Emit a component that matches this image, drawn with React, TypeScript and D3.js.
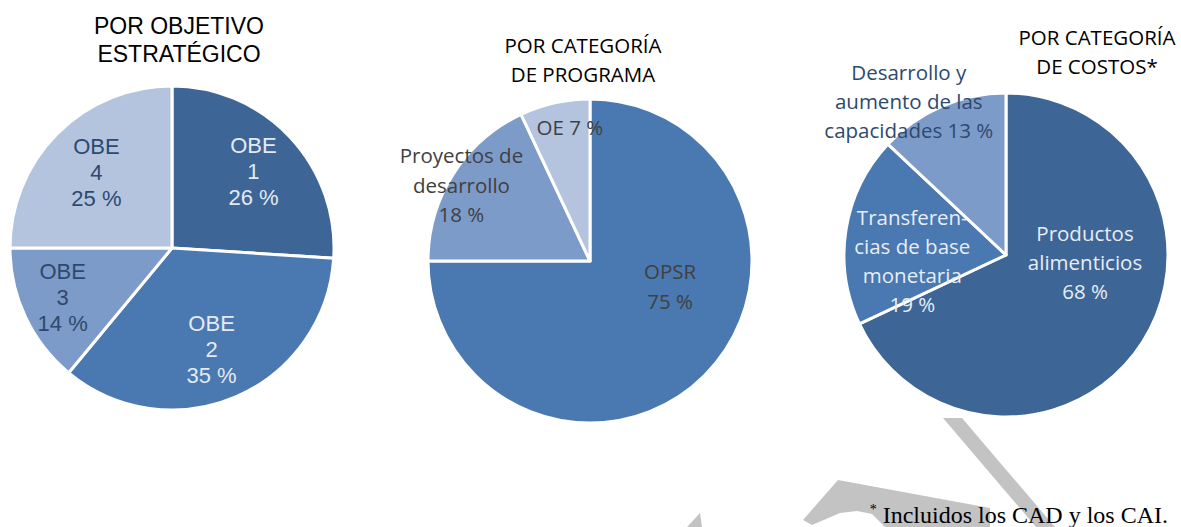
import React from "react";
import * as d3 from "d3";

const W = 1181;
const H = 527;

// Pie 1: Por objetivo estratégico
const obeLabels = ["OBE\n1\n26 %", "OBE\n2\n35 %", "OBE\n3\n14 %", "OBE\n4\n25 %"];
const obeValues = [26, 35, 14, 25];
const obeColors = ["#3d6595", "#4a78b0", "#7d9bc8", "#b4c4de"];
const obeText = ["#e4eaf3", "#e4eaf3", "#2c4a6f", "#2c4a6f"];
const obeLabelR = [0.69, 0.67, 0.74, 0.66];
const obeLabelDA = [0, 2, 1, 0];

// Pie 2: Por categoría de programa
const progLabels = ["OPSR\n75 %", "Proyectos de\ndesarrollo\n18 %", "OE 7 %"];
const progValues = [75, 18, 7];
const progColors = ["#4a78b0", "#7d9bc8", "#b4c4de"];
const progText = ["#404040", "#404040", "#404040"];
const progLabelR = [0.52, 0.92, 0.83];
const progLabelDA = [-27, -2, 4];

// Pie 3: Por categoría de costos
const costLabels = [
  "Productos\nalimenticios\n68 %",
  "Transferen-\ncias de base\nmonetaria\n19 %",
  "Desarrollo y\naumento de las\ncapacidades 13 %",
];
const costValues = [68, 19, 13];
const costColors = ["#3d6595", "#4a78b0", "#7d9bc8"];
const costText = ["#e8edf5", "#e8edf5", "#2c4a6f"];
const costLabelR = [0.49, 0.58, 1.12];
const costLabelDA = [-27, -13, -9];

type PieProps = {
  cx: number;
  cy: number;
  r: number;
  values: number[];
  labels: string[];
  colors: string[];
  textColors: string[];
  labelR: number[];
  labelDA: number[];
  font: string;
  fontSize: number;
  lineH: number;
};

function Pie(p: PieProps) {
  const pie = d3.pie<number>().sort(null).value((d) => d)(p.values);
  const arc = d3.arc<d3.PieArcDatum<number>>().innerRadius(0).outerRadius(p.r);
  return (
    <g transform={`translate(${p.cx},${p.cy})`}>
      {pie.map((s, i) => (
        <path key={"s" + i} d={arc(s) || ""} fill={p.colors[i]} stroke="#ffffff" strokeWidth={3} strokeLinejoin="round" />
      ))}
      {pie.map((s, i) => {
        const mid = (s.startAngle + s.endAngle) / 2 + (p.labelDA[i] * Math.PI) / 180;
        const rr = p.labelR[i] * p.r;
        const x = Math.sin(mid) * rr;
        const y = -Math.cos(mid) * rr;
        const lines = p.labels[i].split("\n");
        const y0 = y - ((lines.length - 1) * p.lineH) / 2;
        return (
          <text
            key={"t" + i}
            x={x}
            textAnchor="middle"
            fontFamily={p.font}
            fontSize={p.fontSize}
            fill={p.textColors[i]}
          >
            {lines.map((ln, j) => (
              <tspan key={j} x={x} y={y0 + j * p.lineH} dy="0.35em">
                {ln}
              </tspan>
            ))}
          </text>
        );
      })}
    </g>
  );
}

const ARIAL = "'Liberation Sans', Arial, sans-serif";
const CALIBRI = "'Open Sans', sans-serif";

export default function App() {
  return (
    <svg
      width={W}
      height={H}
      viewBox={`0 0 ${W} ${H}`}
      style={{ position: "absolute", left: 0, top: 0, background: "#ffffff" }}
    >
      <rect x={0} y={0} width={W} height={H} fill="#ffffff" />
      {/* watermark fragments */}
      <g fill="#c3c3c3">
        <polygon points="943,418 962,418 1055,527 1036,527" />
        <polygon points="838,480 990,508 990,527 885,527 872,514 857,511 840,513 812,525 803,520" />
        <polygon points="687,527 700,513 702,527" />
      </g>

      {/* Titles */}
      <text textAnchor="middle" fontFamily={ARIAL} fontSize={23} fill="#000">
        <tspan x={179} y={34}>POR OBJETIVO</tspan>
        <tspan x={179} y={62}>ESTRATÉGICO</tspan>
      </text>
      <text textAnchor="middle" fontFamily={CALIBRI} fontSize={20.5} fill="#000">
        <tspan x={583} y={53}>POR CATEGORÍA</tspan>
        <tspan x={583} y={82}>DE PROGRAMA</tspan>
      </text>
      <text textAnchor="middle" fontFamily={CALIBRI} fontSize={20.5} fill="#000">
        <tspan x={1097} y={45}>POR CATEGORÍA</tspan>
        <tspan x={1097} y={74}>DE COSTOS*</tspan>
      </text>

      <Pie
        cx={172}
        cy={248}
        r={162}
        values={obeValues}
        labels={obeLabels}
        colors={obeColors}
        textColors={obeText}
        labelR={obeLabelR}
        labelDA={obeLabelDA}
        font={ARIAL}
        fontSize={22}
        lineH={26}
      />
      <Pie
        cx={590}
        cy={261}
        r={162}
        values={progValues}
        labels={progLabels}
        colors={progColors}
        textColors={progText}
        labelR={progLabelR}
        labelDA={progLabelDA}
        font={CALIBRI}
        fontSize={20.5}
        lineH={29.5}
      />
      <Pie
        cx={1006}
        cy={255}
        r={162}
        values={costValues}
        labels={costLabels}
        colors={costColors}
        textColors={costText}
        labelR={costLabelR}
        labelDA={costLabelDA}
        font={CALIBRI}
        fontSize={20.5}
        lineH={29}
      />

      {/* Footnote */}
      <text x={1168} y={523} textAnchor="end" fontFamily="'Liberation Serif', 'Times New Roman', serif" fontSize={24} fill="#000">
        <tspan fontSize={14} dy="-9">*</tspan>
        <tspan dy="9"> Incluidos los CAD y los CAI.</tspan>
      </text>
    </svg>
  );
}
